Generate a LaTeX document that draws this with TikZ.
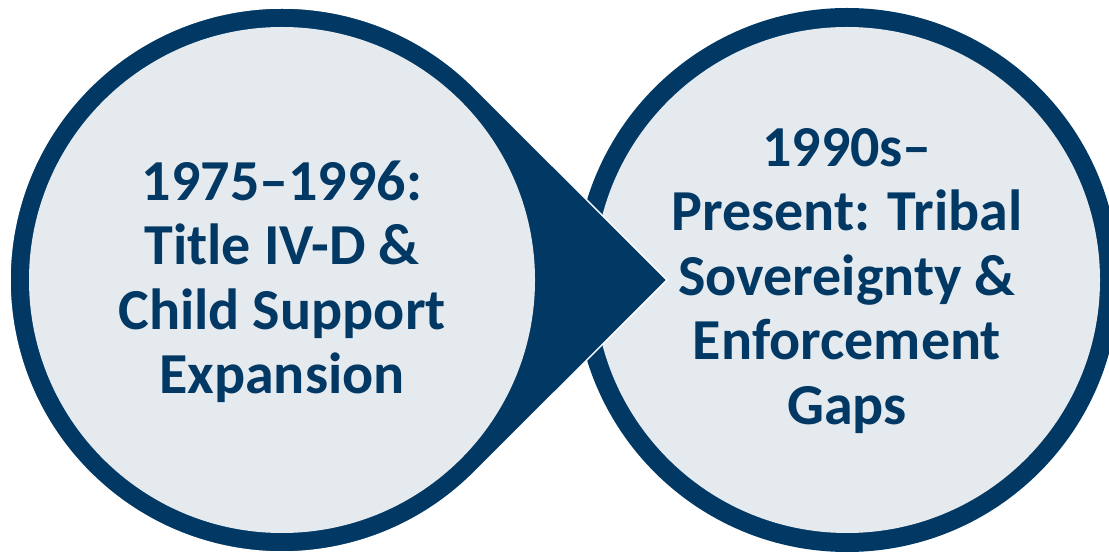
\documentclass[tikz,border=0pt]{standalone}
\usepackage{fontspec}
\setmainfont{Carlito}
\usetikzlibrary{calc}
\definecolor{navy}{RGB}{2,56,100}
\definecolor{pale}{RGB}{229,234,239}
\begin{document}
\begin{tikzpicture}[x=1pt,y=1pt,
  label/.style={inner sep=0pt, align=center, text=navy,
    font={\fontsize{58pt}{64.5pt}\selectfont\bfseries}},
  ring/.style={fill=navy},
  core/.style={fill=pale}]
\useasboundingbox (0,0) rectangle (1109,552);
\clip (0,0) rectangle (1109,552);
% right circle
\fill[ring] (847,272) circle[radius=272];
\fill[core] (847,272) circle[radius=253];
% left teardrop pointing right
\coordinate (tip) at (667,272);
\filldraw[ring, draw=white, line width=1.5pt]
  (tip) -- ($(282,272)+(45:272)$) arc[start angle=45, end angle=315, radius=272] -- cycle;
\fill[core] (282,272) circle[radius=253];
\node[label] (left) at (282,270) {1975–1996:\\Title IV-D \&\\Child Support\\Expansion};
\node[label] (right) at (847,271) {1990s–\\Present: Tribal\\Sovereignty \&\\Enforcement\\Gaps};
\end{tikzpicture}
\end{document}
